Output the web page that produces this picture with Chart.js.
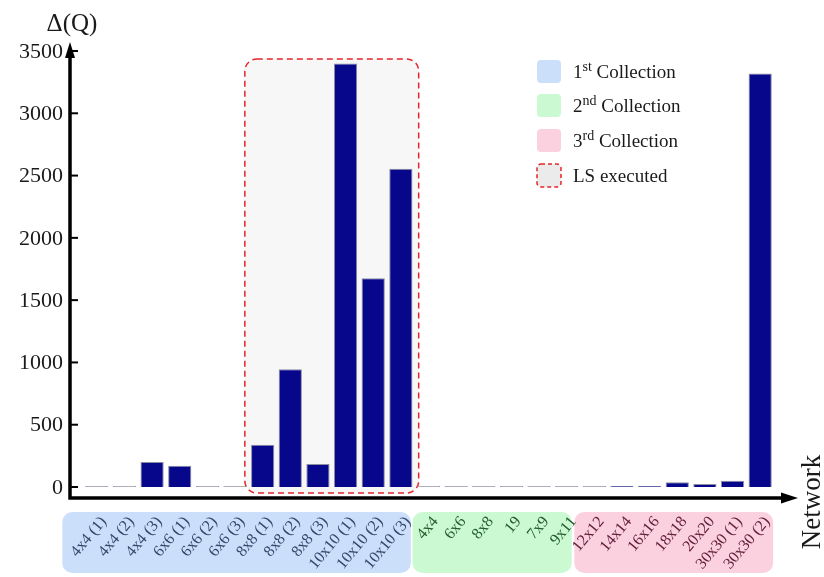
<!DOCTYPE html>
<html>
<head>
<meta charset="utf-8">
<script src="https://cdn.jsdelivr.net/npm/chart.js@4.4.0/dist/chart.umd.min.js"></script>
<style>
    html, body { margin: 0; padding: 0; background: #ffffff; }
    #wrap { width: 824px; height: 577px; }
</style>
</head>
<body>
<div id="wrap"><canvas id="barChart" width="824" height="577"></canvas></div>
<script>
const redes = ['4x4 (1)', '4x4 (2)', '4x4 (3)', '6x6 (1)', '6x6 (2)', '6x6 (3)',
    '8x8 (1)', '8x8 (2)', '8x8 (3)', '10x10 (1)', '10x10 (2)', '10x10 (3)',
    '4x4', '6x6', '8x8', '19', '7x9', '9x11',
    '12x12', '14x14', '16x16', '18x18', '20x20', '30x30 (1)', '30x30 (2)'];
const deltaQ = [0, 0, 200, 170, 0, 0,
    340, 945, 185, 3400, 1675, 2555,
    0, 0, 0, 0, 0, 0,
    0, 8, 8, 38, 25, 50, 3320];
const yTicks = [0, 500, 1000, 1500, 2000, 2500, 3000, 3500];

// colecoes: indice inicial / final de cada grupo
const colecaoInicio = [0, 12, 18];
const colecaoFim = [11, 17, 24];
const colecaoFundo = ['#cbdffa', '#cbf9d2', '#fbd0df'];
const colecaoTexto = ['#33476a', '#245c2c', '#63203c'];
const lsInicio = 6;
const lsFim = 11;

const legendaTextos = [['1', 'st', ' Collection'], ['2', 'nd', ' Collection'], ['3', 'rd', ' Collection'], ['LS executed', '', '']];

const FONTE = '"Liberation Serif", "DejaVu Serif", serif';

function caixaArredondada(ctx, x, y, w, h, r) {
    ctx.beginPath();
    ctx.moveTo(x + r, y);
    ctx.lineTo(x + w - r, y);
    ctx.arcTo(x + w, y, x + w, y + r, r);
    ctx.lineTo(x + w, y + h - r);
    ctx.arcTo(x + w, y + h, x + w - r, y + h, r);
    ctx.lineTo(x + r, y + h);
    ctx.arcTo(x, y + h, x, y + h - r, r);
    ctx.lineTo(x, y + r);
    ctx.arcTo(x, y, x + r, y, r);
    ctx.closePath();
}

const desenhoFundo = {
    id: 'desenhoFundo',
    beforeDatasetsDraw(chart) {
        const ctx = chart.ctx;
        const area = chart.chartArea;
        const xs = chart.scales.x;
        const passo = xs.getPixelForValue(1) - xs.getPixelForValue(0);

        // caixa LS executed
        const lx = xs.getPixelForValue(lsInicio) - passo / 2 - 4;
        const rx = xs.getPixelForValue(lsFim) + passo / 2 + 4;
        ctx.save();
        caixaArredondada(ctx, lx, area.top + 8, rx - lx, area.bottom + 6 - area.top - 8, 12);
        ctx.fillStyle = '#f7f7f7';
        ctx.fill();
        ctx.setLineDash([6, 4]);
        ctx.lineWidth = 1.5;
        ctx.strokeStyle = '#e3262c';
        ctx.stroke();
        ctx.restore();

        // caixas das colecoes
        const bordas = [[-34.5, 10], [-16, 5], [-20, 13]];
        ctx.save();
        for (let i = 0; i < colecaoInicio.length; i++) {
            const x0 = xs.getPixelForValue(colecaoInicio[i]) + bordas[i][0];
            const x1 = xs.getPixelForValue(colecaoFim[i]) + bordas[i][1];
            caixaArredondada(ctx, x0, area.bottom + 25, x1 - x0, 61, 10);
            ctx.fillStyle = colecaoFundo[i];
            ctx.fill();
        }
        ctx.restore();
    },
    afterDraw(chart) {
        const ctx = chart.ctx;
        const area = chart.chartArea;
        const xs = chart.scales.x;
        const ys = chart.scales.y;
        const eixoX = 70;
        const eixoY = area.bottom + 11;

        ctx.save();
        ctx.strokeStyle = '#000';
        ctx.fillStyle = '#000';
        ctx.lineWidth = 3.5;
        ctx.beginPath();
        ctx.moveTo(eixoX, eixoY + 1.5);
        ctx.lineTo(eixoX, 52);
        ctx.moveTo(eixoX - 1.5, eixoY);
        ctx.lineTo(784, eixoY);
        ctx.stroke();
        // setas
        ctx.beginPath();
        ctx.moveTo(eixoX, 42);
        ctx.lineTo(eixoX - 5, 58);
        ctx.lineTo(eixoX + 5, 58);
        ctx.closePath();
        ctx.fill();
        ctx.beginPath();
        ctx.moveTo(798, eixoY);
        ctx.lineTo(781, eixoY - 5.5);
        ctx.lineTo(781, eixoY + 5.5);
        ctx.closePath();
        ctx.fill();

        // ticks do eixo y
        ctx.lineWidth = 2;
        ctx.font = '22px ' + FONTE;
        ctx.textAlign = 'right';
        ctx.textBaseline = 'middle';
        yTicks.forEach(v => {
            const y = ys.getPixelForValue(v);
            ctx.beginPath();
            ctx.moveTo(eixoX, y);
            ctx.lineTo(eixoX + 8, y);
            ctx.stroke();
            ctx.fillStyle = '#1a1a1a';
            ctx.fillText(String(v), 63, y + 1);
        });

        // titulos dos eixos
        ctx.textAlign = 'center';
        ctx.textBaseline = 'alphabetic';
        ctx.font = '25px ' + FONTE;
        ctx.fillText('\u0394(Q)', 72, 31);
        ctx.save();
        ctx.translate(820, 502);
        ctx.rotate(-Math.PI / 2);
        ctx.font = '27px ' + FONTE;
        ctx.fillText('Network', 0, 0);
        ctx.restore();

        // rotulos das redes
        ctx.font = '16px ' + FONTE;
        ctx.textAlign = 'right';
        ctx.textBaseline = 'middle';
        for (let i = 0; i < redes.length; i++) {
            let g = 0;
            while (i > colecaoFim[g]) g++;
            ctx.save();
            ctx.translate(xs.getPixelForValue(i) + 7, area.bottom + 32);
            ctx.rotate(-50 * Math.PI / 180);
            ctx.fillStyle = colecaoTexto[g];
            ctx.fillText(redes[i], 0, 0);
            ctx.restore();
        }

        // legenda
        const lgX = 537;
        const lgY = [60, 94, 129, 164];
        ctx.textAlign = 'left';
        ctx.textBaseline = 'alphabetic';
        for (let i = 0; i < legendaTextos.length; i++) {
            caixaArredondada(ctx, lgX, lgY[i], 24, 23, 4);
            if (i < 3) {
                ctx.fillStyle = colecaoFundo[i];
                ctx.fill();
            } else {
                ctx.fillStyle = '#ebebeb';
                ctx.fill();
                ctx.save();
                ctx.setLineDash([4, 3]);
                ctx.lineWidth = 1.5;
                ctx.strokeStyle = '#e3262c';
                ctx.stroke();
                ctx.restore();
            }
            const base = lgY[i] + 18;
            let tx = lgX + 36;
            ctx.fillStyle = '#1a1a1a';
            ctx.font = '19px ' + FONTE;
            ctx.fillText(legendaTextos[i][0], tx, base);
            tx += ctx.measureText(legendaTextos[i][0]).width;
            ctx.font = '14px ' + FONTE;
            ctx.fillText(legendaTextos[i][1], tx, base - 7);
            tx += ctx.measureText(legendaTextos[i][1]).width;
            ctx.font = '19px ' + FONTE;
            ctx.fillText(legendaTextos[i][2], tx, base);
        }
        ctx.restore();
    }
};

const ctx = document.getElementById('barChart').getContext('2d');
new Chart(ctx, {
    type: 'bar',
    data: {
        labels: redes,
        datasets: [{
            data: deltaQ,
            backgroundColor: c => c.raw === 0 ? '#9a9aa4' : '#07078b',
            borderColor: '#8d8da0',
            borderWidth: 1,
            minBarLength: 1,
            barPercentage: 0.84,
            categoryPercentage: 1
        }]
    },
    options: {
        responsive: false,
        animation: false,
        layout: { padding: { left: 83, right: 50, top: 51, bottom: 90 } },
        plugins: { legend: { display: false }, tooltip: { enabled: false } },
        scales: {
            x: { display: false },
            y: { display: false, min: 0, max: 3500 }
        }
    },
    plugins: [desenhoFundo]
});
</script>
</body>
</html>
